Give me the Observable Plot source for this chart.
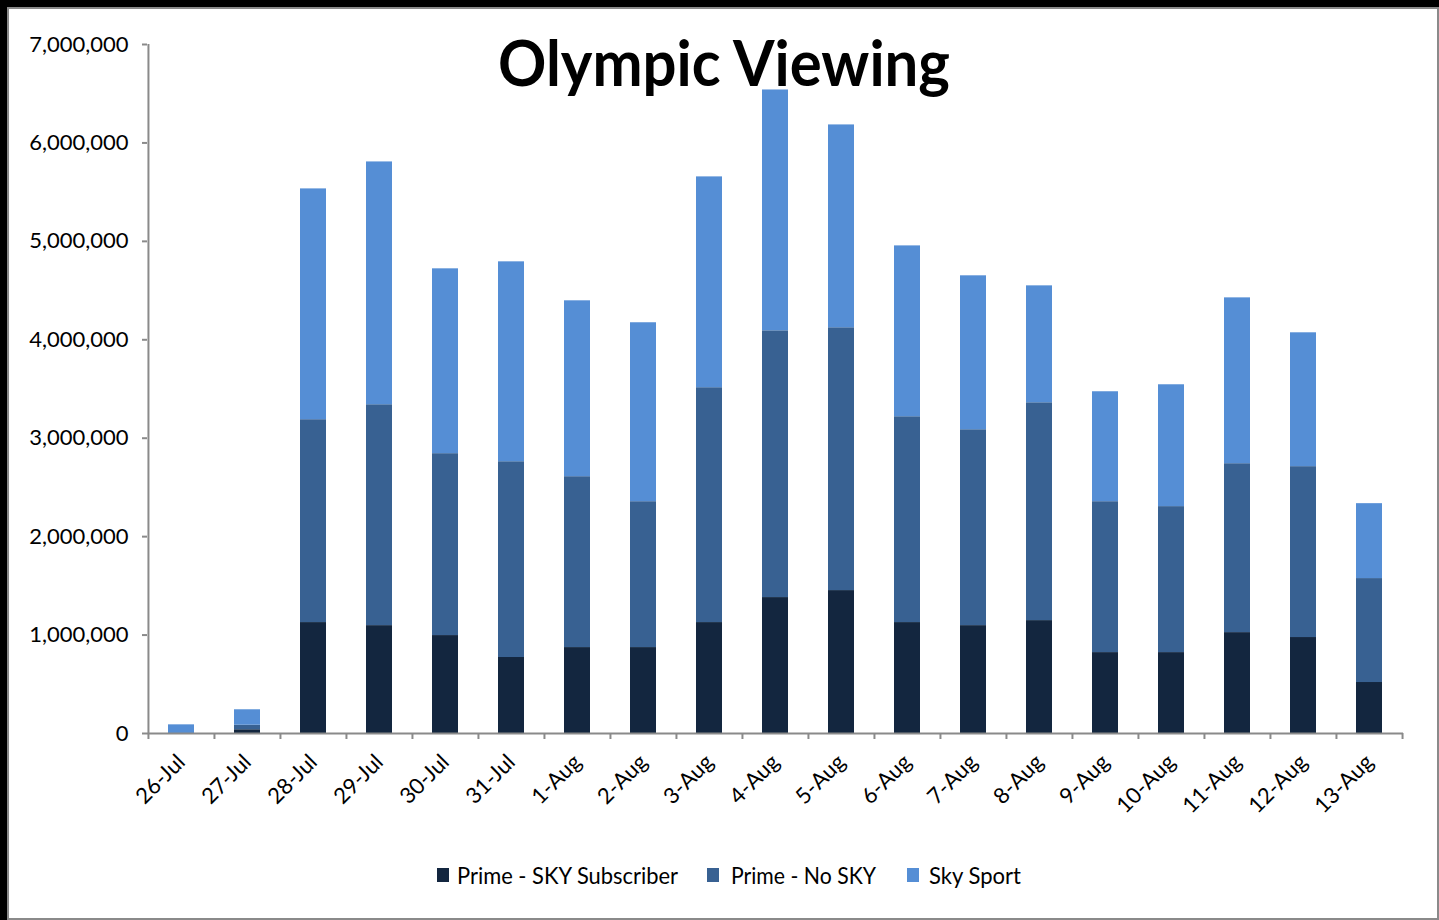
<!DOCTYPE html>
<html>
<head>
<meta charset="utf-8">
<script src="https://cdn.jsdelivr.net/npm/d3@7"></script>
<script src="https://cdn.jsdelivr.net/npm/@observablehq/plot@0.6"></script>
<style>
  html, body { margin: 0; padding: 0; background: #fff; }
  body { width: 1439px; height: 920px; position: relative; overflow: hidden; font-family: Lato, "Open Sans", sans-serif; }
  #blackTop { position: absolute; left: 0; top: 0; width: 1439px; height: 7px; background: #000; }
  #blackLeft { position: absolute; left: 0; top: 0; width: 7px; height: 920px; background: #000; }
  #frame { position: absolute; left: 7px; top: 7px; width: 1428px; height: 909px; border: 2px solid #8a8a8a; }
  #chart { position: absolute; left: 0; top: 0; }
  #title { position: absolute; top: 30px; left: 0; font-weight: 700; font-size: 64px; color: #000; white-space: nowrap; transform-origin: left top; line-height: 1; }
  .leg { position: absolute; top: 864px; white-space: nowrap; font-size: 23px; color: #000; transform-origin: left top; line-height: 1; }
  .sw { position: absolute; width: 12px; height: 14px; top: 868px; }
</style>
</head>
<body>
<div id="blackTop"></div>
<div id="blackLeft"></div>
<div id="frame"></div>
<div id="chart"></div>
<div id="title">Olympic Viewing</div>
<div id="legend"></div>
<script>
const dates = ["26-Jul","27-Jul","28-Jul","29-Jul","30-Jul","31-Jul","1-Aug","2-Aug","3-Aug","4-Aug","5-Aug","6-Aug","7-Aug","8-Aug","9-Aug","10-Aug","11-Aug","12-Aug","13-Aug"];
const primeSky   = [0, 38000, 1127000, 1096000, 995000, 772000, 873000, 873000, 1127000, 1381000, 1452000, 1127000, 1096000, 1147000, 822000, 822000, 1025000, 975000, 518000];
const primeNoSky = [0, 46000, 2061000, 2244000, 1848000, 1989000, 1736000, 1482000, 2386000, 2710000, 2670000, 2091000, 1990000, 2213000, 1533000, 1483000, 1716000, 1736000, 1056000];
const skySport   = [88000, 157000, 2345000, 2467000, 1878000, 2031000, 1787000, 1818000, 2142000, 2447000, 2061000, 1736000, 1564000, 1188000, 1117000, 1238000, 1685000, 1360000, 761000];
const seriesNames = ["Prime - SKY Subscriber", "Prime - No SKY", "Sky Sport"];
const seriesColors = ["#13263f", "#386192", "#558ed5"];
const yTicks = [0, 1000000, 2000000, 3000000, 4000000, 5000000, 6000000, 7000000];

const rows = [];
[primeSky, primeNoSky, skySport].forEach((arr, s) => {
  arr.forEach((v, i) => rows.push({date: dates[i], series: seriesNames[s], value: v}));
});

const W = 1439, H = 830;
const mL = 147, mR = 36, mT = 44, mB = 97;
const step = (W - mL - mR) / dates.length;
const gray = "#8a8a8a";
const tickVal = 6 * 7000000 / (H - mT - mB);

const chart = Plot.plot({
  width: W, height: H,
  marginLeft: mL, marginRight: mR, marginTop: mT, marginBottom: mB,
  style: {fontFamily: "Lato, sans-serif", background: "transparent", color: "#000"},
  x: {domain: dates, paddingInner: 0.6, paddingOuter: 0.3, align: 0.5, label: null},
  y: {domain: [0, 7000000], label: null},
  color: {domain: seriesNames, range: seriesColors},
  marks: [
    Plot.barY(rows, {x: "date", y: "value", fill: "series", order: seriesNames}),
    // y axis line
    Plot.ruleX([dates[0]], {dx: -step / 2, y1: 0, y2: 7000000, stroke: gray, strokeWidth: 2}),
    // x axis line
    Plot.ruleY([0], {stroke: gray, strokeWidth: 2}),
    // category boundary ticks
    Plot.ruleX(dates, {dx: -step / 2, y1: 0, y2: -tickVal, stroke: gray, strokeWidth: 2}),
    Plot.ruleX([dates[dates.length - 1]], {dx: step / 2, y1: 0, y2: -tickVal, stroke: gray, strokeWidth: 2}),
    Plot.axisY(yTicks, {tickSize: 5, tickPadding: 14, tickFormat: d3.format(","), fontSize: 22, stroke: gray, strokeWidth: 2, fill: "#000", label: null}),
    Plot.axisX({tickSize: 0, tickPadding: 25, tickRotate: -45, fontSize: 22, fill: "#000", label: null})
  ]
});
document.getElementById("chart").appendChild(chart);

// fit title
const title = document.getElementById("title");
const tw = title.getBoundingClientRect().width;
const tScale = 452 / tw;
title.style.transform = `scaleX(${tScale})`;
title.style.left = (724 - 452 / 2) + "px";

// legend
const legend = document.getElementById("legend");
const legX = [437, 707, 907];
const legTextX = [457, 731, 929];
const legW = [221, 145, 92];
seriesNames.forEach((name, i) => {
  const sw = document.createElement("div");
  sw.className = "sw";
  sw.style.left = legX[i] + "px";
  sw.style.background = seriesColors[i];
  legend.appendChild(sw);
  const t = document.createElement("div");
  t.className = "leg";
  t.textContent = name;
  t.style.left = legTextX[i] + "px";
  legend.appendChild(t);
  const w = t.getBoundingClientRect().width;
  t.style.transform = `scaleX(${legW[i] / w})`;
});
</script>
</body>
</html>
